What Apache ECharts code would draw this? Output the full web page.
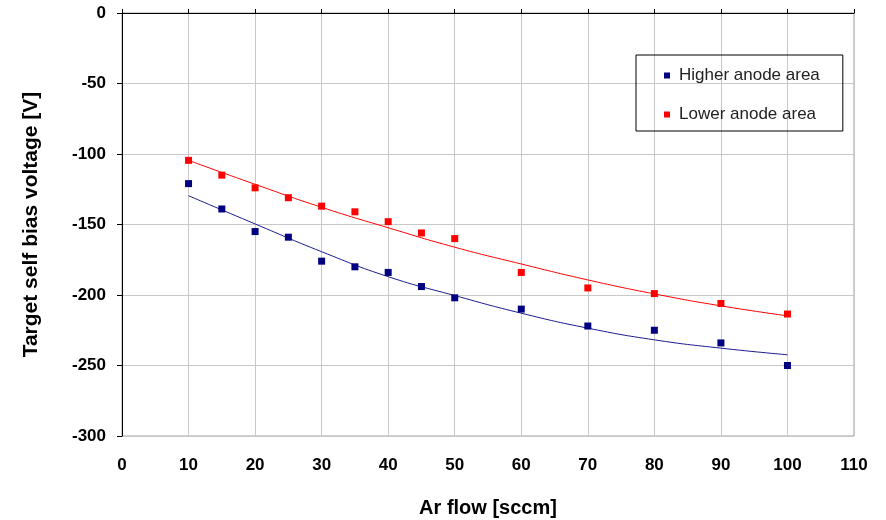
<!DOCTYPE html>
<html><head><meta charset="utf-8">
<script src="https://cdn.jsdelivr.net/npm/echarts@6/dist/echarts.min.js"></script>
<style>html,body{margin:0;padding:0;background:#fff}#c{width:886px;height:520px}</style>
</head><body><div id="c"></div>
<script>
const flow = [10, 15, 20, 25, 30, 35, 40, 45, 50, 60, 70, 80, 90, 100];
const higherAnode = [-121, -139, -155, -159, -176, -180, -184, -194, -202, -210, -222, -225, -234, -250];
const lowerAnode = [-104.5, -115, -124, -131, -137, -141, -148, -156, -160, -184, -195, -199, -206, -213.5];
const fitX = [10, 20, 30, 40, 50, 60, 70, 80, 90, 100];
const higherFit = [-129.6, -149.6, -169.3, -187, -200.4, -212.9, -223.5, -231.8, -237.7, -242.4];
const lowerFit = [-104.5, -121.5, -137.8, -152.3, -166.1, -178, -189.3, -199.2, -207.7, -214.8];
const xTicks = [0, 110, 10];
const yTicks = [-300, 0, 50];

const pair = (xs, ys) => xs.map((x, i) => [x, ys[i]]);
const font = '"Liberation Sans", Arial, sans-serif';
const chart = echarts.init(document.getElementById('c'));
chart.setOption({
  animation: false,
  grid: { left: 122, top: 13, right: 32, bottom: 84, show: true, borderColor: '#a0a0a0', borderWidth: 1,
          containLabel: false, outerBoundsMode: 'none' },
  legend: {
    orient: 'vertical', left: 636, top: 55,
    data: ['Higher anode area', 'Lower anode area'],
    borderColor: '#000', borderWidth: 1,
    padding: [12, 23, 8, 28], itemGap: 22,
    itemWidth: 6, itemHeight: 6, icon: 'rect',
    textStyle: { fontFamily: font, fontSize: 17, color: '#222', padding: [0, 0, 0, 4] }
  },
  xAxis: [{
    type: 'value', min: xTicks[0], max: xTicks[1], interval: xTicks[2], position: 'bottom',
    axisLine: { show: true, lineStyle: { color: '#a0a0a0' } },
    axisTick: { show: false },
    axisLabel: { margin: 21, fontFamily: font, fontSize: 17, fontWeight: 'bold', color: '#000' },
    splitLine: { show: true, lineStyle: { color: '#c8c8c8' } },
    name: 'Ar flow [sccm]', nameLocation: 'middle', nameGap: 62,
    nameTextStyle: { fontFamily: font, fontSize: 20, fontWeight: 'bold', color: '#000' }
  }, {
    type: 'value', min: xTicks[0], max: xTicks[1], interval: xTicks[2], position: 'top',
    axisLine: { show: true, lineStyle: { color: '#000' } },
    axisTick: { show: true, inside: false, length: 4, lineStyle: { color: '#000' } },
    axisLabel: { show: false }, splitLine: { show: false }
  }],
  yAxis: {
    type: 'value', min: yTicks[0], max: yTicks[1], interval: yTicks[2],
    axisLine: { show: true, lineStyle: { color: '#000' } },
    axisTick: { show: true, length: 5, lineStyle: { color: '#000' } },
    axisLabel: { margin: 16, fontFamily: font, fontSize: 17, fontWeight: 'bold', color: '#000' },
    splitLine: { show: true, lineStyle: { color: '#c8c8c8' } },
    name: 'Target self bias voltage [V]', nameLocation: 'middle', nameGap: 80, nameRotate: 90,
    nameTextStyle: { fontFamily: font, fontSize: 21, fontWeight: 'bold', color: '#000' }
  },
  series: [
    { name: 'Higher anode area', type: 'scatter', symbol: 'rect', symbolSize: 7,
      itemStyle: { color: '#000080', opacity: 1 }, data: pair(flow, higherAnode), z: 5 },
    { name: 'Lower anode area', type: 'scatter', symbol: 'rect', symbolSize: 7,
      itemStyle: { color: '#ff0000', opacity: 1 }, data: pair(flow, lowerAnode), z: 5 },
    { name: 'fitH', type: 'line', smooth: true, showSymbol: false, symbol: 'none',
      lineStyle: { color: '#1a1a8c', width: 1 }, data: pair(fitX, higherFit), z: 3 },
    { name: 'fitL', type: 'line', smooth: true, showSymbol: false, symbol: 'none',
      lineStyle: { color: '#ff0000', width: 1 }, data: pair(fitX, lowerFit), z: 3 }
  ]
});
</script></body></html>
